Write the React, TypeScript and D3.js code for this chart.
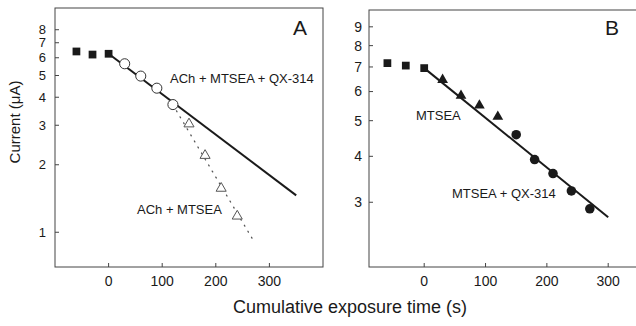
import * as d3 from 'd3';

// ---------- data ----------
// panel A
const aSquareT = [-60, -30, 0];
const aSquareI = [6.4, 6.2, 6.25];
const aCircleT = [30, 60, 90, 120];
const aCircleI = [5.64, 4.97, 4.39, 3.71];
const aTriT = [150, 180, 210, 240];
const aTriI = [3.04, 2.2, 1.57, 1.18];
const aFitT = [0, 350];
const aFitI = [6.25, 1.46];
const aDotT = [120, 270];
const aDotI = [3.7, 0.92];
const aYTicks = [1, 2, 3, 4, 5, 6, 7, 8];
const aXTicks = [0, 100, 200, 300];

// panel B
const bSquareT = [-60, -30, 0];
const bSquareI = [7.17, 7.06, 6.95];
const bTriT = [30, 60, 90, 120];
const bTriI = [6.46, 5.85, 5.5, 5.13];
const bCircleT = [150, 180, 210, 240, 270];
const bCircleI = [4.58, 3.92, 3.59, 3.22, 2.88];
const bFitT = [0, 300];
const bFitI = [6.95, 2.73];
const bYTicks = [3, 4, 5, 6, 7, 8, 9];
const bXTicks = [0, 100, 200, 300];

const font = 'Liberation Sans, Arial, sans-serif';
const ink = '#1a1a1a';

const zip = (t: number[], v: number[]) => t.map((x, i) => ({ t: x, i: v[i] }));

const sq = d3.symbol().type(d3.symbolSquare).size(60)()!;
const circ = d3.symbol().type(d3.symbolCircle).size(80)()!;
const circB = d3.symbol().type(d3.symbolCircle).size(72)()!;
const tri = d3.symbol().type(d3.symbolTriangle).size(44)()!;
const triB = d3.symbol().type(d3.symbolTriangle).size(50)()!;

export default function App() {
  // ---------- scales ----------
  const xA = d3.scaleLinear().domain([-100, 400]).range([55, 323]);
  const yA = d3.scaleLog().domain([0.7, 10]).range([267, 8]);
  const xB = d3.scaleLinear().domain([-90, 360]).range([369, 645]);
  const yB = d3.scaleLog().domain([2, 10]).range([267, 10]);

  const lineA = d3.line<{ t: number; i: number }>().x(d => xA(d.t)).y(d => yA(d.i));
  const lineB = d3.line<{ t: number; i: number }>().x(d => xB(d.t)).y(d => yB(d.i));

  const tickLen = 4;

  return (
    <svg width={636} height={326} style={{ position: 'absolute', left: 0, top: 0, background: '#fff' }}
      fontFamily={font}>
      {/* ===== Panel A ===== */}
      <rect x={55} y={8} width={268} height={259} fill="none" stroke="#444" strokeWidth={1} />
      {aYTicks.map(v => (
        <g key={'ay' + v}>
          <line x1={55} x2={55 + tickLen} y1={yA(v)} y2={yA(v)} stroke="#444" />
          <text x={46} y={yA(v)} dy="0.35em" textAnchor="end" fontSize={13} fill={ink}>{v}</text>
        </g>
      ))}
      {aXTicks.map(v => (
        <g key={'ax' + v}>
          <line x1={xA(v)} x2={xA(v)} y1={267} y2={267 - tickLen} stroke="#444" />
          <text x={xA(v)} y={286} textAnchor="middle" fontSize={14} fill={ink}>{v}</text>
        </g>
      ))}
      <path d={lineA(zip(aFitT, aFitI))!} stroke={ink} strokeWidth={2} fill="none" />
      <path d={lineA(zip(aDotT, aDotI))!} stroke="#555" strokeWidth={1.3} strokeDasharray="1 6" strokeLinecap="round" fill="none" />
      {zip(aSquareT, aSquareI).map((d, k) => (
        <path key={'as' + k} d={sq} transform={`translate(${xA(d.t)},${yA(d.i)})`} fill={ink} />
      ))}
      {zip(aCircleT, aCircleI).map((d, k) => (
        <path key={'ac' + k} d={circ} transform={`translate(${xA(d.t)},${yA(d.i)})`} fill="#fff" stroke="#333" strokeWidth={1} />
      ))}
      {zip(aTriT, aTriI).map((d, k) => (
        <path key={'at' + k} d={tri} transform={`translate(${xA(d.t)},${yA(d.i)})`} fill="#fff" stroke="#555" strokeWidth={1} />
      ))}
      <text x={170} y={83} fontSize={13} fill={ink}>ACh + MTSEA + QX-314</text>
      <text x={137} y={214} fontSize={13} fill={ink}>ACh + MTSEA</text>
      <text x={300} y={35} fontSize={21} textAnchor="middle" fill={ink}>A</text>

      {/* ===== Panel B ===== */}
      <rect x={369} y={10} width={300} height={257} fill="none" stroke="#444" strokeWidth={1} />
      {bYTicks.map(v => (
        <g key={'by' + v}>
          <line x1={369} x2={369 + tickLen} y1={yB(v)} y2={yB(v)} stroke="#444" />
          <text x={362} y={yB(v)} dy="0.35em" textAnchor="end" fontSize={14} fill={ink}>{v}</text>
        </g>
      ))}
      {bXTicks.map(v => (
        <g key={'bx' + v}>
          <line x1={xB(v)} x2={xB(v)} y1={267} y2={267 - tickLen} stroke="#444" />
          <text x={xB(v)} y={286} textAnchor="middle" fontSize={14} fill={ink}>{v}</text>
        </g>
      ))}
      <path d={lineB(zip(bFitT, bFitI))!} stroke={ink} strokeWidth={2} fill="none" />
      {zip(bSquareT, bSquareI).map((d, k) => (
        <path key={'bs' + k} d={sq} transform={`translate(${xB(d.t)},${yB(d.i)})`} fill={ink} />
      ))}
      {zip(bTriT, bTriI).map((d, k) => (
        <path key={'bt' + k} d={triB} transform={`translate(${xB(d.t)},${yB(d.i)})`} fill={ink} />
      ))}
      {zip(bCircleT, bCircleI).map((d, k) => (
        <path key={'bc' + k} d={circB} transform={`translate(${xB(d.t)},${yB(d.i)})`} fill={ink} />
      ))}
      <text x={416} y={120} fontSize={13} fill={ink}>MTSEA</text>
      <text x={452} y={198} fontSize={13} fill={ink}>MTSEA + QX-314</text>
      <text x={612} y={35} fontSize={21} textAnchor="middle" fill={ink}>B</text>

      {/* ===== axis titles ===== */}
      <text transform="translate(20,122) rotate(-90)" textAnchor="middle" fontSize={15} fill={ink}>Current (μA)</text>
      <text x={350} y={313} textAnchor="middle" fontSize={18} fill={ink}>Cumulative exposure time (s)</text>
    </svg>
  );
}
